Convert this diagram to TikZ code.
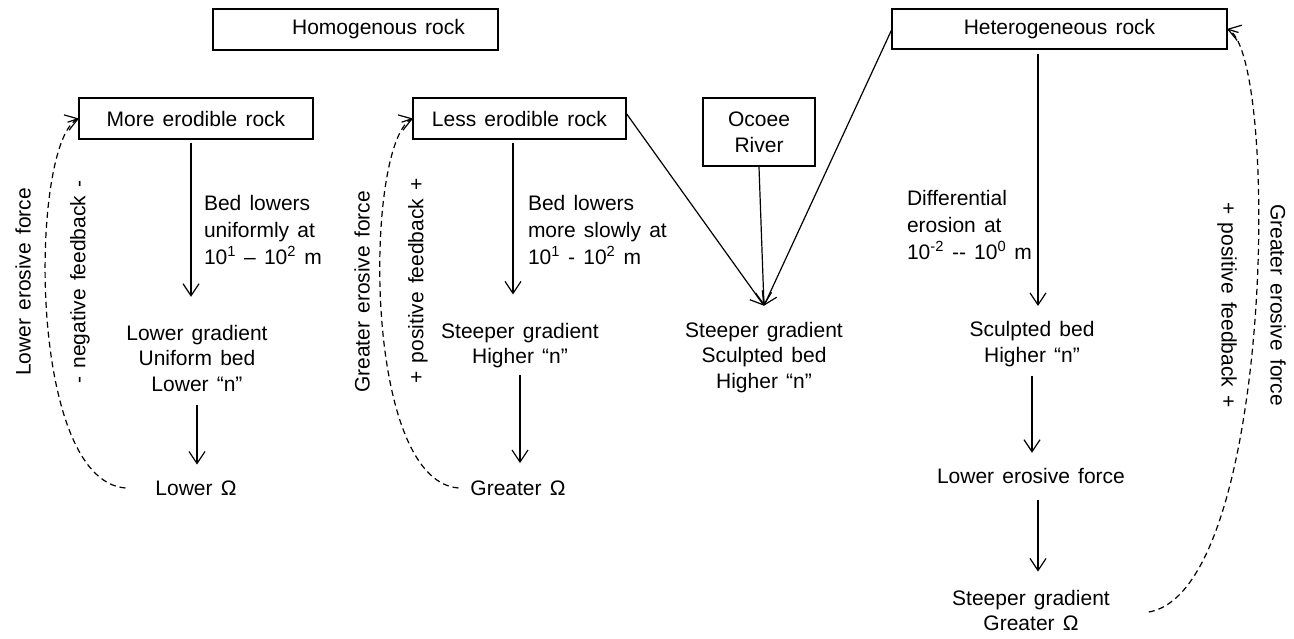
\documentclass[tikz,border=0pt]{standalone}
\usepackage{fontspec}
\setmainfont{Liberation Sans}[WordSpace=1.4]
\usetikzlibrary{arrows.meta}
\begin{document}
\begin{tikzpicture}[x=1pt,y=-1pt,
  every node/.style={inner sep=0pt, outer sep=0pt},
  rbox/.style={draw, line width=1.1pt, font=\fontsize{21}{26}\selectfont, align=center},
  res/.style={font=\fontsize{21}{25.5}\selectfont, align=center},
  lab/.style={font=\fontsize{21}{27}\selectfont, align=left, anchor=west},
  side/.style={font=\fontsize{21}{25}\selectfont},
  arr/.style={line width=1.2pt, -{Straight Barb[length=12pt,width=16pt,line width=1.2pt]}},
  fb/.style={line width=1.2pt, dash pattern=on 6pt off 4pt}
]
\path[use as bounding box] (0,0) rectangle (1294,639);

% boxes
\node[rbox, minimum width=285, minimum height=41] (homog) at (355.5,29.5) {\hspace*{46pt}Homogenous rock};
\node[rbox, minimum width=335, minimum height=40] (hetero) at (1059.5,29) {Heterogeneous rock};
\node[rbox, minimum width=234, minimum height=41] (more) at (196,118.5) {More erodible rock};
\node[rbox, minimum width=213, minimum height=41] (less) at (519.5,118.5) {Less erodible rock};
\node[rbox, minimum width=112, minimum height=68] (ocoee) at (759,132) {Ocoee\\River};

% text nodes
\node[res] (lgrad) at (197,358) {Lower gradient\\Uniform bed\\Lower “n”};
\node[res] (lomega) at (196,488) {Lower Ω};
\node[lab] (bed1) at (204,230) {Bed lowers\\uniformly at\\10\textsuperscript{1} – 10\textsuperscript{2} m};
\node[res] (sgrad1) at (520,345.5) {Steeper gradient\\Higher “n”};
\node[res] (gomega) at (518,488) {Greater Ω};
\node[lab] (bed2) at (528,230) {Bed lowers\\more slowly at\\10\textsuperscript{1} - 10\textsuperscript{2} m};
\node[res] (sgrad2) at (764,357.5) {Steeper gradient\\Sculpted bed\\Higher “n”};
\node[lab] (diff) at (907,225) {Differential\\erosion at\\10\textsuperscript{-2} -{}- 10\textsuperscript{0} m};
\node[res] (sculpt) at (1032,344) {Sculpted bed\\Higher “n”};
\node[res] (lowforce) at (1031,476) {Lower erosive force};
\node[res] (steepg) at (1031,610.5) {Steeper gradient\\Greater Ω};

% rotated side labels
\node[side, rotate=90] (lef1) at (23,282) {Lower erosive force};
\node[side, rotate=90] (neg) at (80,282) {- negative feedback -};
\node[side, rotate=90] (gef1) at (362,292) {Greater erosive force};
\node[side, rotate=90] (pos1) at (418,281) {+ positive feedback +};
\node[side, rotate=-90] (pos2) at (1227,305) {+ positive feedback +};
\node[side, rotate=-90] (gef2) at (1278,305) {Greater erosive force};

% solid arrows
\draw[arr] ([xshift=-5pt,yshift=-4pt]more.south) -- ([xshift=-6pt,yshift=28pt]lgrad.north);
\draw[arr] ([yshift=-13.5pt]lgrad.south) -- ([xshift=1pt,yshift=16pt]lomega.north);
\draw[arr] ([xshift=-6.5pt,yshift=-4pt]less.south) -- ([xshift=-7pt,yshift=28.5pt]sgrad1.north);
\draw[arr] ([yshift=-7pt]sgrad1.south) -- ([xshift=2pt,yshift=17.5pt]gomega.north);
\draw[arr] ([yshift=5.5pt]less.east) -- ([yshift=16.5pt]sgrad2.north);
\draw[arr] ([yshift=-1pt]ocoee.south) -- ([yshift=16.5pt]sgrad2.north);
\draw[arr] (hetero.west) -- ([yshift=16.5pt]sgrad2.north);
\draw[arr] ([xshift=-21.5pt,yshift=-5pt]hetero.south) -- ([xshift=6pt,yshift=15.5pt]sculpt.north);
\draw[arr] ([yshift=-9pt]sculpt.south) -- ([xshift=1pt,yshift=15.5pt]lowforce.north);
\draw[arr] ([xshift=7pt,yshift=-16.5pt]lowforce.south) -- ([xshift=7pt,yshift=18.5pt]steepg.north);

% feedback loops (dashed curve + solid tip)
\draw[fb] ([xshift=-30pt]lomega.west) .. controls (25,480) and (30,135) .. (more.west);
\draw[arr] ([xshift=-11.4pt,yshift=-3.7pt]more.west) -- (more.west);
\draw[fb] ([xshift=-12pt]gomega.west) .. controls (360,480) and (365,135) .. (less.west);
\draw[arr] ([xshift=-11.4pt,yshift=-3.7pt]less.west) -- (less.west);
\draw[fb] ([xshift=39pt,yshift=-1.5pt]steepg.east) .. controls (1275,590) and (1280,45) .. (hetero.east);
\draw[arr] ([xshift=11.5pt,yshift=-3.5pt]hetero.east) -- (hetero.east);
\end{tikzpicture}
\end{document}
